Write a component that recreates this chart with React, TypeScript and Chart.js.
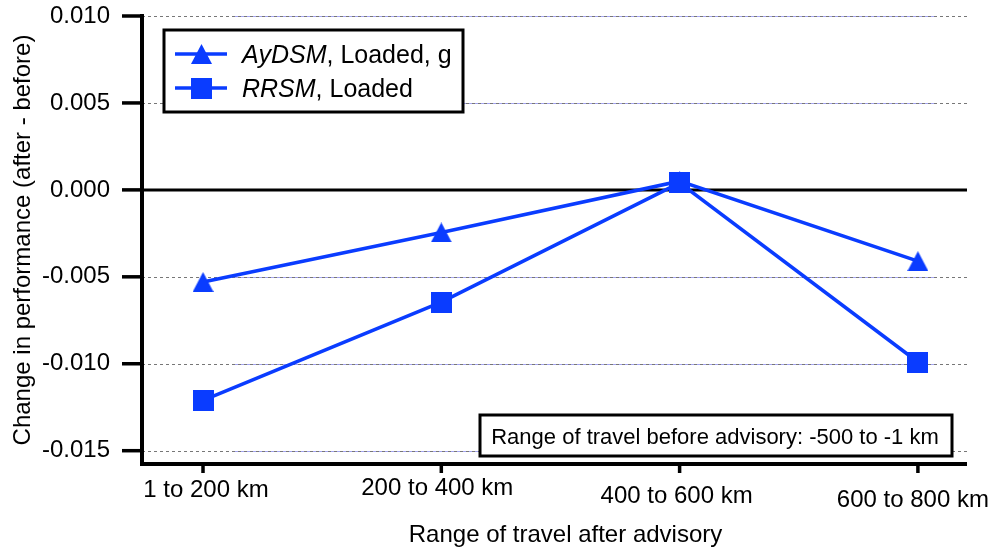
import React, { useEffect, useRef } from 'react';
import { Chart, registerables } from 'chart.js';

Chart.register(...registerables);

// ---- data ----
const categories = ['1 to 200 km', '200 to 400 km', '400 to 600 km', '600 to 800 km'];
const ayDSM = [-0.0053, -0.00245, 0.0005, -0.0041];
const rrsm = [-0.0121, -0.00645, 0.0004, -0.0099];
const yTicks = [0.01, 0.005, 0, -0.005, -0.01, -0.015];
const seriesItalic = ['AyDSM', 'RRSM'];
const seriesRest = [', Loaded, g', ', Loaded'];
const annotationText = 'Range of travel before advisory: -500 to -1 km';
const xTitle = 'Range of travel after advisory';
const yTitle = 'Change in performance (after - before)';

// ---- style ----
const BLUE = '#0a3cff';
const FONT = '"Liberation Sans", Arial, Helvetica, sans-serif';
const labelDx = [3, -4, -3, -5];
const labelDy = [33, 31, 39, 43];

function makeMarker(shape: string, w: number, h: number) {
  const c = document.createElement('canvas');
  c.width = w;
  c.height = h;
  const ctx = c.getContext('2d')!;
  ctx.fillStyle = BLUE;
  if (shape === 'tri') {
    ctx.beginPath();
    ctx.moveTo(w / 2, 0);
    ctx.lineTo(w, h);
    ctx.lineTo(0, h);
    ctx.closePath();
    ctx.fill();
  } else {
    ctx.fillRect(0, 0, w, h);
  }
  return c;
}

export default function App() {
  const ref = useRef<HTMLCanvasElement>(null);

  useEffect(() => {
    const tri = makeMarker('tri', 21, 20);
    const sq = makeMarker('sq', 21, 21);
    const markers = [tri, sq];

    const decor = {
      id: 'decor',
      beforeDatasetsDraw(chart: any) {
        const { ctx, chartArea: a, scales } = chart;
        const y = scales.y;
        ctx.save();
        ctx.lineWidth = 1;
        ctx.setLineDash([3, 3]);
        yTicks.forEach((v) => {
          if (v === 0) return;
          const py = Math.round(y.getPixelForValue(v)) + 0.5;
          ctx.strokeStyle = '#777777';
          ctx.beginPath();
          ctx.moveTo(a.left, py);
          ctx.lineTo(a.right, py);
          ctx.stroke();
          ctx.strokeStyle = '#a4a4f0';
          ctx.beginPath();
          ctx.moveTo(a.left + 93, py);
          ctx.lineTo(a.right - 30, py);
          ctx.stroke();
        });
        ctx.setLineDash([]);
        ctx.strokeStyle = '#000';
        ctx.lineWidth = 3;
        const z = y.getPixelForValue(0);
        ctx.beginPath();
        ctx.moveTo(a.left, z);
        ctx.lineTo(a.right, z);
        ctx.stroke();
        ctx.restore();
      },
      afterDraw(chart: any) {
        const { ctx, chartArea: a, scales } = chart;
        const x = scales.x;
        const y = scales.y;
        ctx.save();
        ctx.strokeStyle = '#000';
        ctx.fillStyle = '#000';
        // axes
        ctx.lineWidth = 4;
        ctx.beginPath();
        ctx.moveTo(a.left, y.getPixelForValue(yTicks[0]) - 2);
        ctx.lineTo(a.left, a.bottom);
        ctx.lineTo(a.right, a.bottom);
        ctx.stroke();
        // y ticks
        ctx.lineWidth = 3.5;
        yTicks.forEach((v) => {
          const py = y.getPixelForValue(v);
          ctx.beginPath();
          ctx.moveTo(a.left - 20, py);
          ctx.lineTo(a.left, py);
          ctx.stroke();
        });
        // x ticks + labels
        ctx.font = `24px ${FONT}`;
        ctx.textAlign = 'center';
        ctx.textBaseline = 'alphabetic';
        categories.forEach((c, i) => {
          const px = x.getPixelForValue(i);
          ctx.beginPath();
          ctx.moveTo(px, a.bottom);
          ctx.lineTo(px, a.bottom + 9);
          ctx.stroke();
          ctx.fillText(c, px + labelDx[i], a.bottom + labelDy[i]);
        });
        // x title
        ctx.font = `24px ${FONT}`;
        ctx.fillText(xTitle, (a.left + a.right) / 2 + 11, a.bottom + 78);

        // legend
        const lx = a.left + 22;
        const ly = a.top + 14;
        ctx.fillStyle = '#fff';
        ctx.fillRect(lx, ly, 299, 82);
        ctx.lineWidth = 3;
        ctx.strokeStyle = '#000';
        ctx.strokeRect(lx, ly, 299, 82);
        seriesItalic.forEach((name, i) => {
          const cy = ly + 24 + i * 34;
          ctx.strokeStyle = BLUE;
          ctx.lineWidth = 3.5;
          ctx.beginPath();
          ctx.moveTo(lx + 11, cy);
          ctx.lineTo(lx + 63, cy);
          ctx.stroke();
          const m = markers[i];
          ctx.drawImage(m, Math.round(lx + 37 - m.width / 2), Math.round(cy - m.height / 2));
          ctx.fillStyle = '#000';
          ctx.textAlign = 'left';
          ctx.font = `italic 25px ${FONT}`;
          ctx.fillText(name, lx + 78, cy + 9);
          const w = ctx.measureText(name).width;
          ctx.font = `25px ${FONT}`;
          ctx.fillText(seriesRest[i], lx + 78 + w, cy + 9);
        });

        // annotation box
        const bx0 = 480;
        const bx1 = a.right - 15;
        const by0 = a.bottom - 49;
        const by1 = a.bottom - 8;
        ctx.fillStyle = '#fff';
        ctx.fillRect(bx0, by0, bx1 - bx0, by1 - by0);
        ctx.strokeStyle = '#000';
        ctx.lineWidth = 3;
        ctx.strokeRect(bx0, by0, bx1 - bx0, by1 - by0);
        ctx.fillStyle = '#000';
        ctx.font = `22px ${FONT}`;
        ctx.textAlign = 'center';
        ctx.fillText(annotationText, (bx0 + bx1) / 2 - 1, by0 + 29);
        ctx.restore();
      },
    };

    const chart = new Chart(ref.current!, {
      type: 'line',
      data: {
        datasets: [
          {
            label: 'RRSM, Loaded',
            data: rrsm.map((v, i) => ({ x: i, y: v })),
            borderColor: BLUE,
            backgroundColor: BLUE,
            borderWidth: 3.5,
            pointStyle: sq as any,
            pointRadius: 10,
            tension: 0,
          },
          {
            label: 'AyDSM, Loaded, g',
            data: ayDSM.map((v, i) => ({ x: i, y: v })),
            borderColor: BLUE,
            backgroundColor: BLUE,
            borderWidth: 3.5,
            pointStyle: tri as any,
            pointRadius: 10,
            tension: 0,
          },
        ],
      },
      options: {
        responsive: false,
        animation: false,
        layout: { padding: { left: 0, top: 16, right: 26, bottom: 0 } },
        plugins: { legend: { display: false }, tooltip: { enabled: false } },
        scales: {
          x: {
            type: 'linear',
            min: -0.256,
            max: 3.206,
            grid: { display: false, drawTicks: false },
            border: { display: false },
            ticks: { display: false },
            afterFit: (s: any) => {
              s.height = 86;
              s.paddingLeft = 0;
              s.paddingRight = 0;
            },
          },
          y: {
            type: 'linear',
            min: -0.015765,
            max: 0.01,
            grid: { display: false, drawTicks: false },
            border: { display: false },
            afterBuildTicks: (s: any) => {
              s.ticks = yTicks.map((v) => ({ value: v }));
            },
            ticks: {
              padding: 32,
              color: '#000',
              font: { family: FONT, size: 24 },
              callback: (v: any) => Number(v).toFixed(3),
            },
            title: {
              display: true,
              text: yTitle,
              color: '#000',
              font: { family: FONT, size: 24 },
              padding: { top: 9, bottom: 0 },
            },
            afterFit: (s: any) => {
              s.width = 142;
              s.paddingTop = 0;
              s.paddingBottom = 0;
            },
          },
        },
      },
      plugins: [decor],
    } as any);
    return () => chart.destroy();
  }, []);

  return (
    <div style={{ position: 'fixed', left: 0, top: 0, width: 993, height: 550, background: '#fff' }}>
      <canvas ref={ref} width={993} height={550} style={{ display: 'block' }} />
    </div>
  );
}
